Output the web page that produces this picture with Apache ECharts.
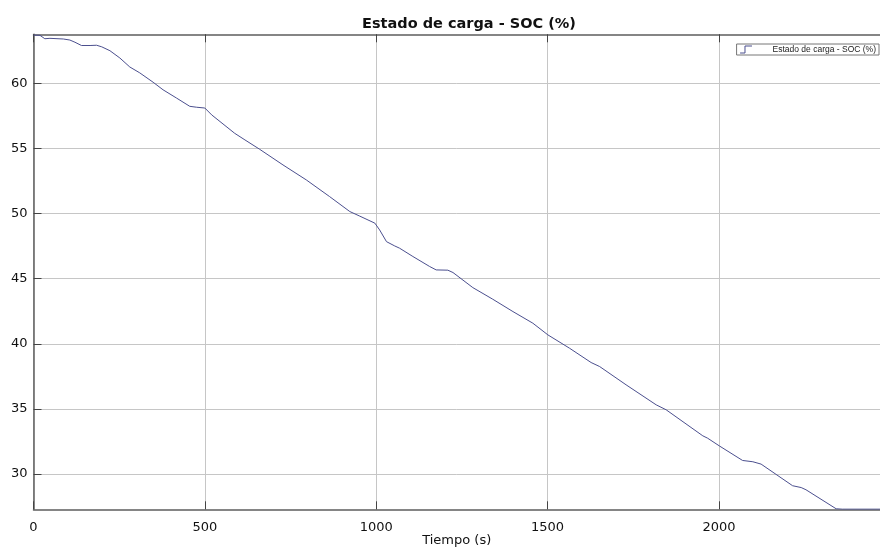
<!DOCTYPE html>
<html>
<head>
<meta charset="utf-8">
<script src="https://cdn.jsdelivr.net/npm/echarts@6/dist/echarts.min.js"></script>
<style>
  html, body { margin: 0; padding: 0; background: #fff; }
  #chart { width: 880px; height: 547px; }
</style>
</head>
<body>
<div id="chart"></div>
<script>
// Battery state of charge over time
const tiempo = [0, 19, 33, 48, 87, 106, 121, 140, 165, 184, 199, 223, 252, 281, 310, 349, 378, 417, 456, 476, 500, 520, 587, 617, 660, 728, 796, 864, 923, 952, 996, 1010, 1030, 1054, 1068, 1107, 1156, 1175, 1209, 1224, 1282, 1340, 1399, 1457, 1501, 1564, 1627, 1652, 1729, 1817, 1846, 1953, 1967, 2001, 2069, 2099, 2123, 2215, 2240, 2254, 2342, 2360, 2470];
const soc = [63.7, 63.68, 63.42, 63.45, 63.4, 63.32, 63.15, 62.9, 62.9, 62.92, 62.8, 62.5, 61.94, 61.25, 60.8, 60.08, 59.5, 58.87, 58.23, 58.16, 58.1, 57.57, 56.16, 55.65, 54.93, 53.73, 52.58, 51.3, 50.15, 49.8, 49.26, 48.74, 47.84, 47.51, 47.34, 46.7, 45.93, 45.67, 45.65, 45.47, 44.31, 43.42, 42.47, 41.58, 40.68, 39.66, 38.56, 38.25, 36.85, 35.31, 34.93, 32.93, 32.75, 32.16, 31.04, 30.94, 30.76, 29.1, 28.96, 28.79, 27.33, 27.3, 27.3];
const xTicks = [0, 500, 1000, 1500, 2000];
const yTicks = [30, 35, 40, 45, 50, 55, 60];
const seriesName = 'Estado de carga - SOC (%)';

const FONT = 'DejaVu Sans';
const axisLineStyle = { color: '#5e5e5e', width: 1.5 };
const gridLineStyle = { color: '#c6c6c6', width: 1 };
const tickStyle = { color: '#444', width: 1 };

const chart = echarts.init(document.getElementById('chart'), null, { renderer: 'canvas' });
chart.setOption({
  animation: false,
  backgroundColor: '#ffffff',
  title: {
    text: 'Estado de carga - SOC (%)',
    left: 464, textAlign: 'center', top: 12,
    textStyle: { fontFamily: FONT, fontSize: 14.5, fontWeight: 'bold', color: '#111' }
  },
  legend: {
    right: 1, top: 44,
    orient: 'vertical',
    data: [{ name: seriesName, icon: 'path://M0,10 L7,10 L7,0 L17,0' }],
    itemWidth: 17, itemHeight: 7,
    itemStyle: { color: 'transparent', borderColor: '#4b4f8e', borderWidth: 1 },
    padding: [1, 3, 1, 3],
    borderColor: '#777', borderWidth: 1, borderRadius: 0,
    backgroundColor: '#fff',
    textStyle: { fontFamily: 'Liberation Sans', fontSize: 8.5, color: '#222', padding: [0, 0, 0, 13] }
  },
  grid: { left: 33.5, right: 0, top: 34.3, bottom: 37.7, containLabel: false, outerBoundsMode: 'none' },
  xAxis: [{
    type: 'value', min: 0, max: 2470,
    name: 'Tiempo (s)', nameLocation: 'middle', nameGap: 25, nameMoveOverlap: false,
    nameTextStyle: { fontFamily: FONT, fontSize: 13, color: '#111', verticalAlign: 'top' },
    axisLine: { show: true, lineStyle: axisLineStyle },
    axisTick: { show: true, inside: true, length: 8, lineStyle: tickStyle, customValues: xTicks },
    axisLabel: { fontFamily: FONT, fontSize: 13, color: '#111', margin: 12, customValues: xTicks,
                 formatter: v => String(v) },
    splitLine: { show: true, lineStyle: gridLineStyle }
  }, {
    type: 'value', min: 0, max: 2470, position: 'top',
    axisLine: { show: true, lineStyle: axisLineStyle },
    axisTick: { show: true, inside: true, length: 8, lineStyle: tickStyle, customValues: xTicks },
    axisLabel: { show: false },
    splitLine: { show: false }
  }],
  yAxis: {
    type: 'value', min: 27.29, max: 63.76,
    axisLine: { show: true, lineStyle: axisLineStyle },
    axisTick: { show: true, inside: true, length: 8, lineStyle: tickStyle, customValues: yTicks },
    axisLabel: { fontFamily: FONT, fontSize: 13, color: '#111', margin: 6, customValues: yTicks },
    splitLine: { show: true, lineStyle: gridLineStyle }
  },
  series: [{
    name: seriesName,
    type: 'line',
    xAxisIndex: 0,
    data: tiempo.map((t, i) => [t, soc[i]]),
    showSymbol: false, symbol: 'none',
    clip: true,
    lineStyle: { color: '#4b4f8e', width: 1 },
    itemStyle: { color: '#4b4f8e' }
  }]
});
</script>
</body>
</html>
